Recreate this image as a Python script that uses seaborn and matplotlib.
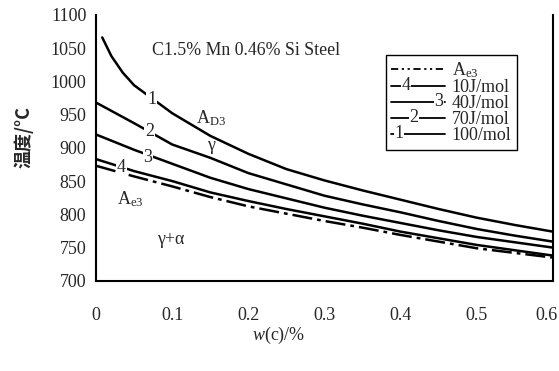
import numpy as np
import pandas as pd
import matplotlib
matplotlib.use("Agg")
import matplotlib.pyplot as plt
import matplotlib.transforms as mtransforms
import seaborn as sns
from matplotlib.lines import Line2D
from matplotlib.legend_handler import HandlerLine2D
from matplotlib.text import Text

# ---------------- data ----------------
carbon = [0.0, 0.05, 0.1, 0.15, 0.2, 0.25, 0.3, 0.35, 0.4, 0.45, 0.5, 0.55, 0.6]
carbon_1 = [0.008, 0.02, 0.035, 0.05, 0.1, 0.15, 0.2, 0.25, 0.3, 0.35, 0.4, 0.45, 0.5, 0.55, 0.6]
t_100 = [1066, 1038, 1013, 994, 952, 918, 891, 868, 851, 836, 822, 808, 795, 784, 774]
t_70 = [968, 937, 905, 885, 862, 845, 828, 815, 803, 790, 778, 768, 759]
t_40 = [920, 897, 876, 855, 838, 824, 810, 798, 787, 776, 766, 758, 750]
t_10 = [883, 865, 850, 833, 820, 808, 797, 786, 774, 764, 754, 746, 738]
t_ae3 = [873, 857, 842, 826, 812, 801, 790, 780, 769, 759, 749, 742, 735]

legend_labels = [r"A$_{\mathrm{e3}}$", "10J/mol", "40J/mol", "70J/mol", "100/mol"]
legend_numbers = [None, "4", "3", "2", "1"]
legend_num_pos = [None, 0.28, 0.88, 0.42, 0.14]
yticks = [700, 750, 800, 850, 900, 950, 1000, 1050, 1100]
xticks = [0, 0.1, 0.2, 0.3, 0.4, 0.5, 0.6]
xticklabels = ["0", "0.1", "0.2", "0.3", "0.4", "0.5", "0.6"]

# ---------------- style ----------------
sns.set_style("white")
plt.rcParams["font.family"] = ["Liberation Serif", "Noto Sans CJK SC", "DejaVu Sans"]
plt.rcParams["mathtext.fontset"] = "custom"
plt.rcParams["mathtext.rm"] = "Liberation Serif"
plt.rcParams["mathtext.it"] = "Liberation Serif:italic"
plt.rcParams["mathtext.bf"] = "Liberation Serif:bold"

fig = plt.figure(figsize=(5.59, 3.71), dpi=100)
ax = fig.add_axes([0.172, 0.243, 0.817, 0.717])

lw = 1.8
sns.lineplot(x=carbon_1, y=t_100, ax=ax, color="black", lw=lw)
sns.lineplot(x=carbon, y=t_70, ax=ax, color="black", lw=lw)
sns.lineplot(x=carbon, y=t_40, ax=ax, color="black", lw=lw)
sns.lineplot(x=carbon, y=t_10, ax=ax, color="black", lw=lw)
sns.lineplot(x=carbon, y=t_ae3, ax=ax, color="black", lw=lw)
ax.lines[-1].set_linestyle((0, (8, 2, 1.5, 2)))

ax.set_xlim(0, 0.6)
ax.set_ylim(700, 1100)
ax.set_xticks(xticks)
ax.set_xticklabels(xticklabels)
ax.set_yticks(yticks)
ax.tick_params(axis="both", direction="in", length=4, width=1.2, labelsize=13, color="black")
ax.tick_params(axis="x", pad=19)
ax.tick_params(axis="y", pad=7)
for s in ["left", "bottom", "right"]:
    ax.spines[s].set_color("black")
    ax.spines[s].set_linewidth(1.5)
ax.spines["top"].set_visible(False)

# keep the last x tick label inside the figure
last = ax.get_xticklabels()[-1]
last.set_horizontalalignment("right")
last.set_transform(last.get_transform() + mtransforms.ScaledTranslation(5 / 100, 0, fig.dpi_scale_trans))

ax.set_xlabel(r"$\mathit{w}$(c)/%", fontsize=13)
ax.xaxis.set_label_coords(0.40, -0.165)
ax.set_ylabel("温度/°C", fontsize=13, family=["Noto Sans CJK SC", "DejaVu Sans"], fontweight="bold")
ax.yaxis.set_label_coords(-0.138, 0.54)

# curve number labels (gaps in lines)
box = dict(facecolor="white", edgecolor="none", pad=0.6)
ax.text(0.073, 972, "1", fontsize=13, ha="center", va="center", bbox=box)
ax.text(0.070, 924, "2", fontsize=13, ha="center", va="center", bbox=box)
ax.text(0.068, 886, "3", fontsize=13, ha="center", va="center", bbox=box)
ax.text(0.033, 870, "4", fontsize=13, ha="center", va="center", bbox=box)

ax.text(0.073, 1047, "C1.5% Mn 0.46% Si Steel", fontsize=12.8, ha="left", va="center")
ax.text(0.131, 944, r"A$_{\mathrm{D3}}$", fontsize=13, ha="left", va="center")
ax.text(0.151, 903, "γ", fontsize=13, ha="center", va="center")
ax.text(0.027, 823, r"A$_{\mathrm{e3}}$", fontsize=13, ha="left", va="center")
ax.text(0.08, 762, "γ+α", fontsize=13, ha="left", va="center")


class NumberedHandler(HandlerLine2D):
    def __init__(self, num, frac, **kw):
        super().__init__(**kw)
        self.num = num
        self.frac = frac

    def create_artists(self, legend, orig_handle, xdescent, ydescent, width, height, fontsize, trans):
        arts = super().create_artists(legend, orig_handle, xdescent, ydescent, width, height, fontsize, trans)
        if self.num is not None:
            t = Text(x=-xdescent + self.frac * width, y=height / 2 - ydescent, text=self.num,
                     ha="center", va="center", fontsize=fontsize,
                     bbox=dict(facecolor="white", edgecolor="none", pad=0.3))
            t.set_transform(trans)
            arts.append(t)
        return arts


handles = [Line2D([], [], color="black", lw=1.3, linestyle=(0, (4, 2, 1.2, 2, 1.2, 2)))]
for _ in range(4):
    handles.append(Line2D([], [], color="black", lw=1.3))
hmap = {h: NumberedHandler(n, f) for h, n, f in zip(handles, legend_numbers, legend_num_pos)}
leg = ax.legend(handles, legend_labels, handler_map=hmap, loc="upper right",
                bbox_to_anchor=(0.921, 0.850), borderaxespad=0, fontsize=13,
                labelspacing=-0.05, handlelength=3.0, handletextpad=0.35,
                borderpad=0.3, fancybox=False, framealpha=1, edgecolor="black")
leg.get_frame().set_linewidth(1.0)

fig.savefig("out.png", dpi=100)
